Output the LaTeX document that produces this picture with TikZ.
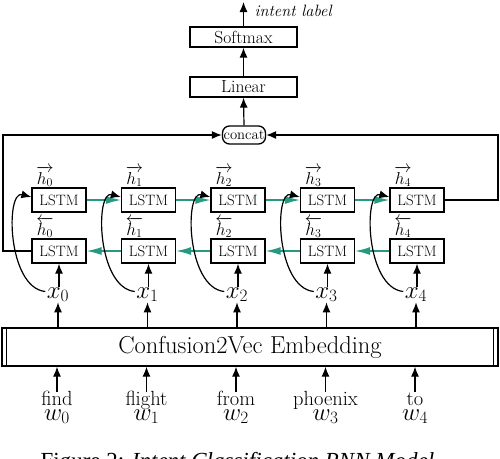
\documentclass[tikz,border=0pt]{standalone}
\usepackage{fontspec}
\usepackage{amsmath}
\newfontfamily\capfont{Liberation Serif}
\usetikzlibrary{arrows.meta,positioning}
\definecolor{lstmteal}{RGB}{38,154,128}
\newcommand{\fs}[1]{\fontsize{#1}{#1}\selectfont}
\begin{document}
\begin{tikzpicture}[x=1pt,y=-1pt,
  line width=1.2pt,
  lstm/.style={draw,line width=1.3pt,minimum width=54pt,minimum height=24pt,inner sep=0pt,font=\fs{15}},
  topbox/.style={draw,line width=1.3pt,minimum width=107pt,minimum height=20pt,inner sep=0pt,font=\fs{17.5}},
  blk/.style={-{Latex[length=10pt,width=8pt]}},
  tl/.style={draw=lstmteal,line width=1.3pt,-{Latex[length=15pt,width=8pt]}},
  hlab/.style={inner sep=0pt,anchor=base,font=\fs{16.5}},
  xlab/.style={inner sep=0pt,anchor=base,font=\fs{24}},
  wrd/.style={inner sep=0pt,anchor=base,font=\fs{20.5}},
  wlab/.style={inner sep=0pt,anchor=base,font=\fs{24}}
]
\useasboundingbox (0,0) rectangle (500,458);
% top stack
\node[topbox] (soft) at (243.5,37) {Softmax};
\node[topbox] (lin) at (243.5,87) {Linear};
\node[draw,line width=1.3pt,rounded corners=7pt,minimum width=43pt,minimum height=18pt,inner sep=1pt,font=\fs{14.7}] (concat) at (244,135) {concat};
\coordinate (top) at (243.5,2);
\node[anchor=west,inner sep=0pt,font=\fs{16.4}\itshape] (intent) at (254,11) {intent label};
\draw[blk] (soft.north) -- (top);
\draw[blk] (lin.north) -- (soft.south);
\draw[blk] (concat.north) -- (lin.south);
% LSTM rows
\foreach \i/\wordtext in {0/find,1/flight,2/from,3/phoenix,4/to}{
  \pgfmathsetmacro{\cx}{59+89.5*\i}
  \node[lstm] (f\i) at (\cx,200) {LSTM};
  \node[lstm] (b\i) at (\cx,251) {LSTM};
  \node[hlab] (hf\i) at (\cx-14,184) {$\overrightarrow{h_{\i}}$};
  \node[hlab] (hb\i) at (\cx-14,235) {$\overleftarrow{h_{\i}}$};
  \node[xlab] (x\i) at (\cx-1,298) {$x_{\i}$};
  \node[wrd] (word\i) at (\cx-2,405) {\wordtext};
  \node[wlab] (w\i) at (\cx-2,420) {$w_{\i}$};
}
\foreach \i/\j in {0/1,1/2,2/3,3/4}{
  \draw[tl] (f\i.east) -- (f\j.west);
  \draw[tl] (b\j.west) -- (b\i.east);
}
% embedding
\node[draw,line width=1.3pt,minimum width=496pt,minimum height=38pt,inner sep=0pt,font=\fs{24.5}] (emb) at (250,347) {Confusion2Vec Embedding};
\draw[line width=1.3pt] ([xshift=5pt]emb.north west) -- ([xshift=5pt]emb.south west);
\draw[line width=1.3pt] ([xshift=-5pt]emb.north east) -- ([xshift=-5pt]emb.south east);
\foreach \i in {0,...,4}{
  \draw[blk] (x\i.north -| b\i.south) -- (b\i.south);
  \draw[blk] (emb.north -| x\i) -- (x\i.south);
  \draw[blk] (word\i.north |- 0,392) -- (emb.south -| word\i);
  \draw[blk] ([xshift=-1pt,yshift=3pt]x\i.west) .. controls ++(-38,-4) and ([xshift=-26pt,yshift=10pt]f\i.west) .. ([yshift=3pt]f\i.west);
}
% loops to concat
\coordinate (lc) at (3,251);
\coordinate (rc) at (498,200);
\draw[blk] (b0.west) -- (lc) |- (concat.west);
\draw[blk] (f4.east) -- (rc) |- (concat.east);
% caption (cut off at the bottom edge)
\node[anchor=base west,inner sep=0pt,font=\capfont\fs{23}] (cap) at (40,468) {Figure 2: \textit{Intent Classification RNN Model}};
\end{tikzpicture}
\end{document}
